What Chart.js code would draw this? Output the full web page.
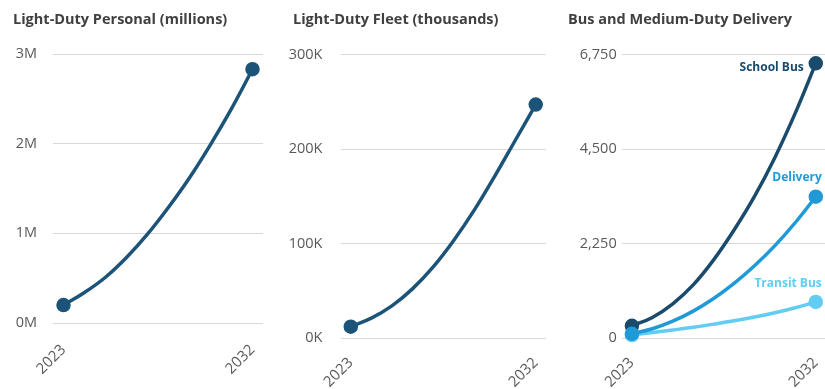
<!DOCTYPE html>
<html>
<head>
<meta charset="utf-8">
<script src="https://cdn.jsdelivr.net/npm/chart.js@4.4.1/dist/chart.umd.min.js"></script>
<style>
  html, body { margin: 0; padding: 0; background: #ffffff; overflow: hidden; width: 825px; height: 389px; }
  canvas { position: absolute; top: 0; }
</style>
</head>
<body>
<canvas id="c1" width="272" height="389" style="left:0px;width:272px;height:389px"></canvas>
<canvas id="c2" width="283" height="389" style="left:272px;width:283px;height:389px"></canvas>
<canvas id="c3" width="280" height="389" style="left:555px;width:280px;height:389px"></canvas>
<script>
// ---- data ----
const years = ['2023', '2024', '2025', '2026', '2027', '2028', '2029', '2030', '2031', '2032'];
const shownYearLabels = ['2023', '2032'];

const panelTitles = ['Light-Duty Personal (millions)', 'Light-Duty Fleet (thousands)', 'Bus and Medium-Duty Delivery'];

const personalValues = [200000, 340000, 510000, 730000, 990000, 1290000, 1620000, 1990000, 2390000, 2830000];
const personalTicks = [0, 1000000, 2000000, 3000000];
const personalTickLabels = ['0M', '1M', '2M', '3M'];

const fleetValues = [12000, 21000, 34000, 52000, 75000, 103000, 135000, 171000, 209000, 247000];
const fleetTicks = [0, 100000, 200000, 300000];
const fleetTickLabels = ['0K', '100K', '200K', '300K'];

const busSeriesNames = ['School Bus', 'Delivery', 'Transit Bus'];
const schoolBusValues = [290, 490, 815, 1265, 1860, 2570, 3370, 4300, 5360, 6540];
const deliveryValues = [100, 220, 400, 640, 940, 1300, 1720, 2200, 2750, 3364];
const transitBusValues = [70, 130, 190, 255, 330, 410, 500, 600, 720, 859];
const busTicks = [0, 2250, 4500, 6750];
const busTickLabels = ['0', '2,250', '4,500', '6,750'];

// ---- styles ----
const FONT = "'Open Sans', 'Noto Sans', sans-serif";
const TICK_COLOR = '#595959';
const TITLE_COLOR = '#404040';
const GRID_COLOR = '#d9d9d9';
const C_MAIN = '#1c5378';
const C_SCHOOL = '#1a4b6d';
const C_DELIVERY = '#1f9ad6';
const C_TRANSIT = '#62ccf3';

const endLabelPlugin = {
  id: 'endLabels',
  afterDatasetsDraw(chart, args, opts) {
    if (!opts || !opts.items) return;
    const ctx = chart.ctx;
    ctx.save();
    ctx.font = 'bold 12px ' + FONT;
    ctx.textAlign = 'right';
    ctx.textBaseline = 'middle';
    opts.items.forEach((it, i) => {
      const pts = chart.getDatasetMeta(i).data;
      const p = pts[pts.length - 1];
      ctx.fillStyle = chart.data.datasets[i].borderColor;
      ctx.fillText(chart.data.datasets[i].label, p.x + it.dx, p.y + it.dy);
    });
    ctx.restore();
  }
};

const panelTitlePlugin = {
  id: 'panelTitle',
  afterDraw(chart, args, opts) {
    if (!opts || !opts.text) return;
    const ctx = chart.ctx;
    ctx.save();
    ctx.font = 'bold 14.5px ' + FONT;
    ctx.fillStyle = TITLE_COLOR;
    ctx.textAlign = 'left';
    ctx.textBaseline = 'middle';
    ctx.fillText(opts.text, opts.x, opts.y);
    ctx.restore();
  }
};

function endPointRadius(ctx) {
  const n = ctx.dataset.data.length;
  return (ctx.dataIndex === 0 || ctx.dataIndex === n - 1) ? 5.5 : 0;
}

function makeDataset(label, values, color, order) {
  return {
    label: label,
    data: values,
    borderColor: color,
    backgroundColor: color,
    pointBackgroundColor: color,
    pointBorderColor: color,
    borderWidth: 3.5,
    pointRadius: endPointRadius,
    pointHoverRadius: endPointRadius,
    tension: 0.4,
    fill: false,
    order: order
  };
}

function makeChart(id, title, datasets, ticks, tickLabels, geo, endLabels) {
  const max = ticks[ticks.length - 1];
  return new Chart(document.getElementById(id), {
    type: 'line',
    data: { labels: years, datasets: datasets },
    plugins: [endLabelPlugin, panelTitlePlugin],
    options: {
      responsive: false,
      animation: false,
      events: [],
      clip: false,
      layout: { padding: { left: 0, right: geo.padRight, top: geo.top, bottom: 0 } },
      plugins: {
        legend: { display: false },
        tooltip: { enabled: false },
        title: { display: false },
        panelTitle: { text: title, x: geo.titleX, y: 20 },
        endLabels: endLabels ? { items: endLabels } : false
      },
      scales: {
        x: {
          type: 'category',
          offset: true,
          grid: { display: false, drawTicks: false },
          border: { display: false },
          afterFit: (s) => { s.height = 389 - geo.bottom; s.paddingLeft = 0; s.paddingRight = 0; },
          ticks: {
            autoSkip: false,
            maxRotation: 45,
            minRotation: 45,
            padding: geo.xPad,
            color: TICK_COLOR,
            font: { family: FONT, size: 15 },
            callback: function (v) {
              const lab = this.getLabelForValue(v);
              return shownYearLabels.includes(lab) ? lab : '';
            }
          }
        },
        y: {
          min: 0,
          max: max,
          afterFit: (s) => { s.width = geo.yWidth; s.paddingTop = 0; s.paddingBottom = 0; },
          afterBuildTicks: (s) => { s.ticks = ticks.map(v => ({ value: v })); },
          grid: { color: GRID_COLOR, lineWidth: 1, drawTicks: false },
          border: { display: false },
          ticks: {
            padding: geo.yPad,
            color: TICK_COLOR,
            font: { family: FONT, size: 14.5 },
            callback: (v) => tickLabels[ticks.indexOf(v)]
          }
        }
      }
    }
  });
}

makeChart('c1', panelTitles[0],
  [makeDataset('Light-Duty Personal', personalValues, C_MAIN, 0)],
  personalTicks, personalTickLabels,
  { titleX: 13, top: 54, bottom: 323, yWidth: 53, yPad: 16, padRight: 6, xPad: 18 });

makeChart('c2', panelTitles[1],
  [makeDataset('Light-Duty Fleet', fleetValues, C_MAIN, 0)],
  fleetTicks, fleetTickLabels,
  { titleX: 21, top: 54.5, bottom: 338, yWidth: 68.5, yPad: 18, padRight: 1, xPad: 16 });

makeChart('c3', panelTitles[2],
  [makeDataset(busSeriesNames[0], schoolBusValues, C_SCHOOL, 1),
   makeDataset(busSeriesNames[1], deliveryValues, C_DELIVERY, 0),
   makeDataset(busSeriesNames[2], transitBusValues, C_TRANSIT, 2)],
  busTicks, busTickLabels,
  { titleX: 13, top: 54.5, bottom: 338, yWidth: 66.7, yPad: 5, padRight: 5, xPad: 16 },
  [{ dx: -12, dy: 4 }, { dx: 6, dy: -19 }, { dx: 6, dy: -18 }]);
</script>
</body>
</html>
